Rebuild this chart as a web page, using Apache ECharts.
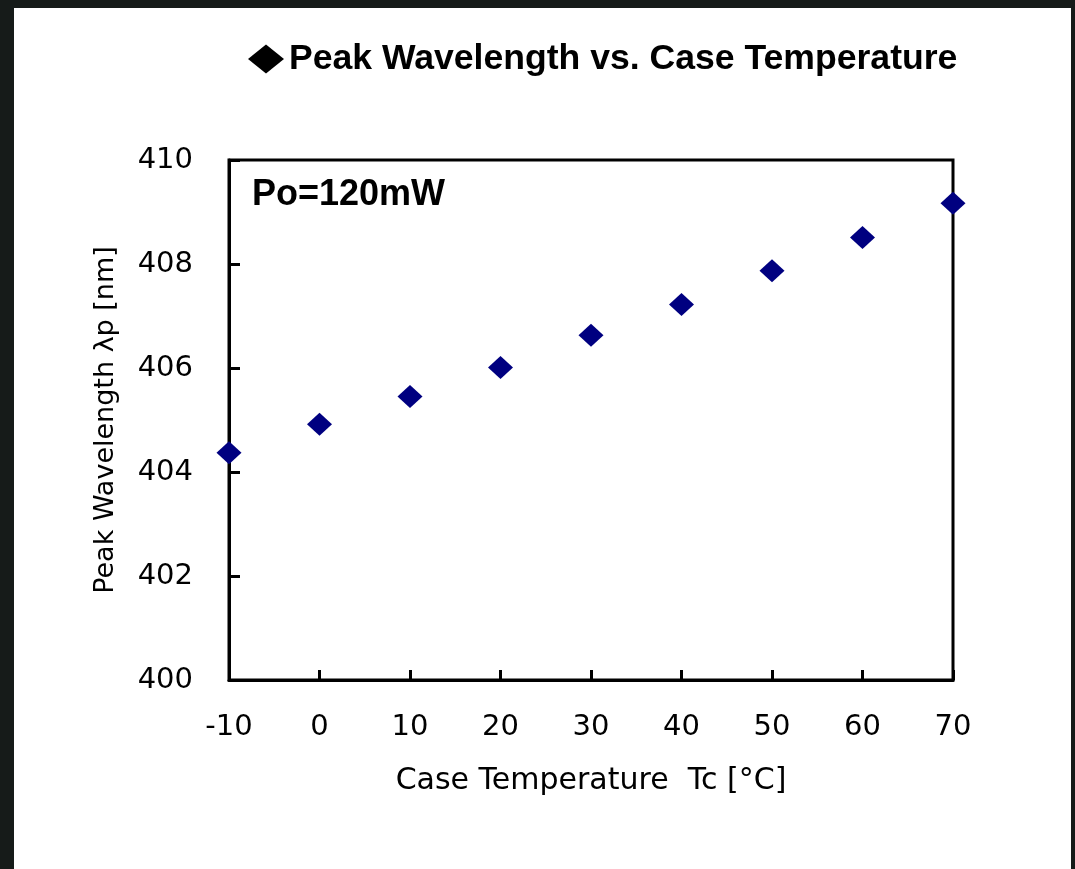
<!DOCTYPE html>
<html>
<head>
<meta charset="utf-8">
<script src="https://cdn.jsdelivr.net/npm/echarts@6/dist/echarts.min.js"></script>
<style>
  html, body { margin: 0; padding: 0; width: 1075px; height: 869px; background: #161b19; overflow: hidden; }
  #main { position: absolute; left: 14px; top: 8px; width: 1057px; height: 861px; background: #fff; }
</style>
</head>
<body>
<div id="main"></div>
<script>
// case temperature (°C) and measured peak wavelength (nm)
var temps = [-10, 0, 10, 20, 30, 40, 50, 60, 70];
var wavelengths = [404.37, 404.92, 405.45, 406.01, 406.63, 407.22, 407.87, 408.51, 409.17];
var seriesName = 'Peak Wavelength vs. Case Temperature';
var note = 'Po=120mW';

var chart = echarts.init(document.getElementById('main'));

var points = [];
for (var i = 0; i < temps.length; i++) {
    points.push([temps[i], wavelengths[i]]);
}

var option = {
    backgroundColor: '#fff',
    animation: false,
    title: {
        text: note,
        left: 238,
        top: 169,
        padding: 0,
        textStyle: {
            fontFamily: 'Liberation Sans',
            fontWeight: 'bold',
            fontSize: 36,
            color: '#000'
        }
    },
    legend: {
        left: 234,
        top: 33,
        padding: 0,
        icon: 'diamond',
        itemWidth: 36,
        itemHeight: 29,
        data: [{ name: seriesName, itemStyle: { color: '#000' } }],
        textStyle: {
            fontFamily: 'Liberation Sans',
            fontWeight: 'bold',
            fontSize: 35.6,
            color: '#000'
        }
    },
    grid: {
        left: 215,
        right: 118,
        top: 152,
        bottom: 189,
        show: true,
        borderColor: '#000',
        borderWidth: 3,
        backgroundColor: '#fff'
    },
    xAxis: {
        type: 'value',
        min: -10,
        max: 70,
        interval: 10,
        name: 'Case Temperature  Tc [°C]',
        nameLocation: 'middle',
        nameGap: 86,
        nameTextStyle: { fontFamily: 'DejaVu Sans', fontSize: 30, color: '#000' },
        splitLine: { show: false },
        axisLine: { onZero: false, lineStyle: { color: '#000', width: 3 } },
        axisTick: { inside: true, length: 10, lineStyle: { color: '#000', width: 3 } },
        axisLabel: { margin: 33, fontFamily: 'DejaVu Sans', fontSize: 29, color: '#000' }
    },
    yAxis: {
        type: 'value',
        min: 400,
        max: 410,
        interval: 2,
        name: 'Peak Wavelength λp [nm]',
        nameLocation: 'middle',
        nameGap: 110,
        nameTextStyle: { fontFamily: 'DejaVu Sans', fontSize: 27, color: '#000' },
        splitLine: { show: false },
        axisLine: { onZero: false, lineStyle: { color: '#000', width: 3 } },
        axisTick: { inside: true, length: 11, lineStyle: { color: '#000', width: 3 } },
        axisLabel: { margin: 36, fontFamily: 'DejaVu Sans', fontSize: 29, color: '#000' }
    },
    series: [
        {
            name: seriesName,
            type: 'scatter',
            symbol: 'diamond',
            symbolSize: [25, 23],
            itemStyle: { color: '#000080', opacity: 1 },
            data: points
        }
    ]
};

chart.setOption(option);
window.addEventListener('resize', function () {
    chart.resize();
});
</script>
</body>
</html>
